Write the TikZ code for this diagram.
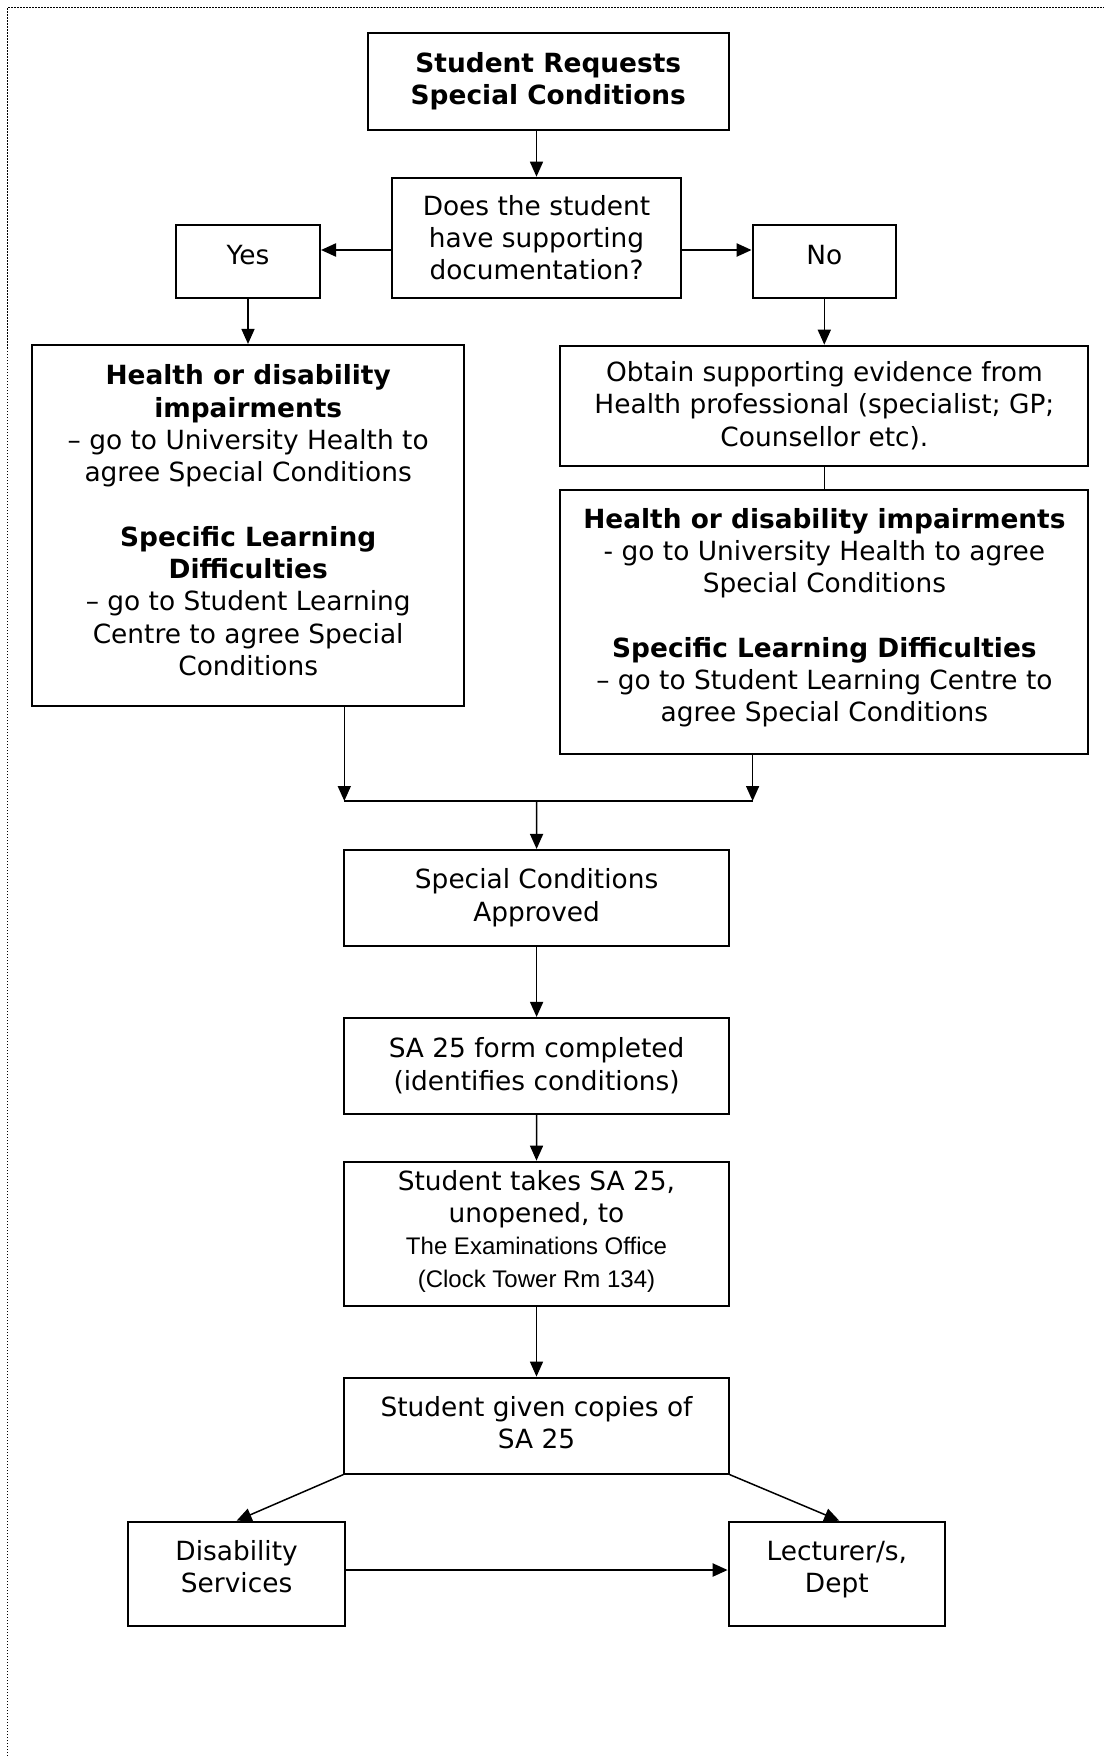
\documentclass[tikz,border=0pt]{standalone}
\usepackage{fontspec}
\setmainfont{DejaVu Sans}
\newfontfamily\arialf{Liberation Sans}
\usetikzlibrary{arrows.meta,calc}
\newcommand{\smallarial}{\arialf\fontsize{24}{28.5}\selectfont}
\tikzset{
  box/.style={draw, line width=2pt, rectangle, inner sep=0pt, align=center,
    font=\fontsize{26.4}{32.3}\selectfont},
  txt/.style={inner sep=0pt, align=center, font=\fontsize{26.4}{32.3}\selectfont},
  conn/.style={line width=1.5pt, -{Triangle[length=15pt,width=13pt]}},
  connthick/.style={line width=2.2pt, -{Triangle[length=15pt,width=13pt]}},
  plain/.style={line width=1.5pt},
}
\begin{document}
\begin{tikzpicture}[x=1pt,y=-1pt]
\useasboundingbox (0,0) rectangle (1104,1756);
% dotted page border
\draw[line width=1.5pt, dash pattern=on 1.5pt off 1.5pt] (7.5,1756) -- (7.5,7.5) -- (1104,7.5);

\node[box, minimum width=360.7pt, minimum height=96.4pt] (b1) at (548.3,81.5)
  {\textbf{Student Requests}\\\textbf{Special Conditions}};
\node[box, minimum width=289pt, minimum height=120pt] (b2) at (536.5,237.7)
  {Does the student\\have supporting\\documentation?};
\node[box, minimum width=144pt, minimum height=72.7pt] (yes) at (248,261.3) {};
\node[txt] (yesT) at ($(yes.center)+(0,-6)$) {Yes};
\node[box, minimum width=143.4pt, minimum height=72.7pt] (no) at (824.3,261.3) {};
\node[txt] (noT) at ($(no.center)+(0,-6)$) {No};
\node[box, minimum width=431.6pt, minimum height=360.7pt] (left) at (248.2,525.3) {};
\node[txt] (leftT) at ($(left.center)+(0,-5)$)
  {\textbf{Health or disability}\\\textbf{impairments}\\– go to University Health to\\agree Special Conditions\\[32.3pt]
   \textbf{Specific Learning}\\\textbf{Difficulties}\\– go to Student Learning\\Centre to agree Special\\Conditions};
\node[box, minimum width=528.1pt, minimum height=120pt] (obtain) at (824.4,405.7)
  {Obtain supporting evidence from\\Health professional (specialist; GP;\\Counsellor etc).};
\node[box, minimum width=528.1pt, minimum height=263.7pt] (right2) at (824.4,621.8) {};
\node[txt] (right2T) at ($(right2.center)+(0,-4)$)
  {\textbf{Health or disability impairments}\\- go to University Health to agree\\Special Conditions\\[32.3pt]
   \textbf{Specific Learning Difficulties}\\– go to Student Learning Centre to\\agree Special Conditions};
\node[box, minimum width=384.7pt, minimum height=95.7pt] (approved) at (536.6,897.8)
  {Special Conditions\\Approved};
\node[box, minimum width=384.7pt, minimum height=95.7pt] (sa25) at (536.6,1065.8)
  {SA 25 form completed\\(identifies conditions)};
\node[box, minimum width=384.4pt, minimum height=144.1pt] (takes) at (536.5,1233.7) {};
\node[txt] (takesT) at ($(takes.center)+(0,-2.5)$)
  {Student takes SA 25,\\unopened, to\\{\smallarial The Examinations Office}\\{\smallarial (Clock Tower Rm 134)}};
\node[box, minimum width=384.4pt, minimum height=96pt] (given) at (536.5,1425.6) {};
\node[txt] (givenT) at ($(given.center)+(0,-3)$) {Student given copies of\\SA 25};
\node[box, minimum width=216.7pt, minimum height=104pt] (dis) at (236.6,1573.7) {};
\node[txt] (disT) at ($(dis.center)+(0,-7)$) {Disability\\Services};
\node[box, minimum width=216.3pt, minimum height=104pt] (lect) at (836.8,1573.7) {};
\node[txt] (lectT) at ($(lect.center)+(0,-4)$) {Lecturer/s,\\Dept};

% connectors
\draw[conn] (b2.north |- b1.south) -- (b2.north);
\coordinate (ylev) at (0,250);
\draw[connthick] (b2.west |- ylev) -- (yes.east |- ylev);
\draw[connthick] (b2.east |- ylev) -- (no.west |- ylev);
\draw[conn] (yes.south) -- (yes.south |- left.north);
\draw[conn] (no.south) -- (no.south |- obtain.north);
\draw[plain] (obtain.south) -- (right2.north);
\coordinate (jl) at (344.3,801);
\coordinate (jr) at (752.6,801);
\coordinate (jc) at (536.5,801);
\draw[conn] (left.south -| jl) -- (jl);
\draw[conn] (right2.south -| jr) -- (jr);
\draw[line width=2pt] (jl) -- (jr);
\draw[conn] (jc) -- (approved.north);
\draw[conn] (approved.south) -- (sa25.north);
\draw[conn] (sa25.south) -- (takes.north);
\draw[conn] (takes.south) -- (given.north);
\draw[conn] (given.south west) -- (dis.north);
\draw[conn] (given.south east) -- ($(lect.north)+(2.5,0)$);
\coordinate (hlev) at (0,1570);
\draw[connthick] (dis.east |- hlev) -- (lect.west |- hlev);
\end{tikzpicture}
\end{document}
